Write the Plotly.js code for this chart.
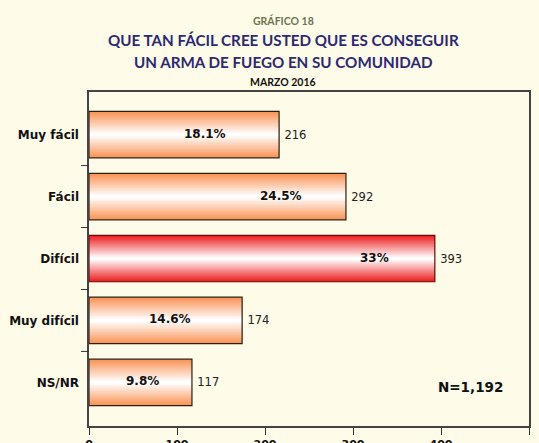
<!DOCTYPE html>
<html>
<head>
<meta charset="utf-8">
<script src="https://cdn.plot.ly/plotly-3.0.1.min.js"></script>
<style>html,body{margin:0;padding:0;background:#FEFBE8;}#chart{width:539px;height:443px;}</style>
</head>
<body>
<div id="chart"></div>
<script>
// ---- data ----
const categories = ['Muy fácil', 'Fácil', 'Difícil', 'Muy difícil', 'NS/NR'];
const counts = [216, 292, 393, 174, 117];
const percents = ['18.1%', '24.5%', '33%', '14.6%', '9.8%'];
const xTickVals = [0, 100, 200, 300, 400, 500];
const supertitle = 'GRÁFICO 18';
const titleLines = ['QUE TAN FÁCIL CREE USTED QUE ES CONSEGUIR', 'UN ARMA DE FUEGO EN SU COMUNIDAD'];
const subtitle = 'MARZO 2016';
const sampleNote = 'N=1,192';

// ---- style ----
const highlight = 'Difícil';
const edgeOrange = [249, 148, 86];
const edgeRed = [236, 34, 34];
const labelFrac = [0.611, 0.746, 0.826, 0.529, 0.518]; // where the % label sits along each bar
const barWidth = 0.75;
const layers = 16;
const bg = '#FEFBE8';
const plotW = 539 - 89 - 10;

function mix(c, t) {
  const r = Math.round(c[0] + (255 - c[0]) * t);
  const g = Math.round(c[1] + (255 - c[1]) * t);
  const b = Math.round(c[2] + (255 - c[2]) * t);
  return 'rgb(' + r + ',' + g + ',' + b + ')';
}
const outline = categories.map(c => c === highlight ? '#6a0a0a' : '#2a2018');

const traces = [];
for (let k = 0; k < layers; k++) {
  const t = k / (layers - 1);
  const w = barWidth * (1 - k / layers);
  const colors = categories.map(c => mix(c === highlight ? edgeRed : edgeOrange, t));
  const tr = {
    type: 'bar', orientation: 'h',
    x: counts, y: categories,
    width: categories.map(() => w),
    marker: {color: colors, line: {width: 0}},
    hoverinfo: 'skip', showlegend: false
  };
  if (k === 0) {
    tr.text = counts.map(v => '\u2009' + v);
    tr.textposition = 'outside';
    tr.cliponaxis = false;
    tr.textfont = {family: 'DejaVu Sans', size: 11.5, color: '#222'};
  }
  traces.push(tr);
}
// outline drawn on top of the gradient layers
traces.push({
  type: 'bar', orientation: 'h', x: counts, y: categories,
  width: categories.map(() => barWidth),
  marker: {color: 'rgba(0,0,0,0)', line: {width: 1.2, color: outline}},
  hoverinfo: 'skip', showlegend: false
});

const annotations = categories.map((c, i) => ({
  x: counts[i] * labelFrac[i], y: c, xref: 'x', yref: 'y', yshift: 1,
  xanchor: 'center', yanchor: 'middle',
  text: '<b>' + percents[i] + '</b>', showarrow: false,
  font: {family: 'DejaVu Sans', size: 12, color: '#111'}
}));

const cx = 0.4415;
function titleAnn(y, text, size, color) {
  return {xref: 'paper', yref: 'paper', x: cx, y: y, xanchor: 'center', yanchor: 'middle',
    text: '<b>' + text + '</b>', showarrow: false, font: {family: 'Lato', size: size, color: color}};
}
annotations.push(
  titleAnn(1.2146, supertitle, 10.5, '#6B7650'),
  titleAnn(1.156, titleLines[0], 15.2, '#2C2A72'),
  titleAnn(1.0886, titleLines[1], 15.2, '#2C2A72'),
  titleAnn(1.030, subtitle, 10.5, '#111'),
  {xref: 'x', yref: 'paper', x: 434, y: 0.117, xanchor: 'center', yanchor: 'middle',
   text: '<b>' + sampleNote + '</b>', showarrow: false,
   font: {family: 'DejaVu Sans', size: 13.5, color: '#111'}}
);

const tickLen = 8;
const shapes = [];
for (let i = 0; i < categories.length - 1; i++) {
  shapes.push({type: 'line', xref: 'paper', yref: 'y', x0: -tickLen / plotW, x1: 0,
    y0: i + 0.5, y1: i + 0.5, line: {color: '#333', width: 1}});
}

const layout = {
  width: 539, height: 443,
  margin: {l: 89, r: 10, t: 92, b: 17},
  paper_bgcolor: bg, plot_bgcolor: bg,
  barmode: 'overlay',
  showlegend: false,
  xaxis: {
    range: [0, 500], tickvals: xTickVals, ticks: 'outside', ticklen: 7, tickcolor: '#333',
    showgrid: false, zeroline: false, showline: true, mirror: true, linecolor: '#444', linewidth: 1.6,
    tickfont: {family: 'DejaVu Sans', size: 11, color: '#111', weight: 'bold'}, fixedrange: true
  },
  yaxis: {
    type: 'category', categoryarray: categories, range: [4.704, -0.688],
    ticks: '', showgrid: false, zeroline: false, showline: true, mirror: true,
    linecolor: '#444', linewidth: 1.6, ticklabelstandoff: 6,
    tickfont: {family: 'DejaVu Sans', size: 12, color: '#111', weight: 'bold'}, fixedrange: true
  },
  annotations: annotations,
  shapes: shapes
};

Plotly.newPlot('chart', traces, layout, {displayModeBar: false, staticPlot: true});
</script>
</body>
</html>
